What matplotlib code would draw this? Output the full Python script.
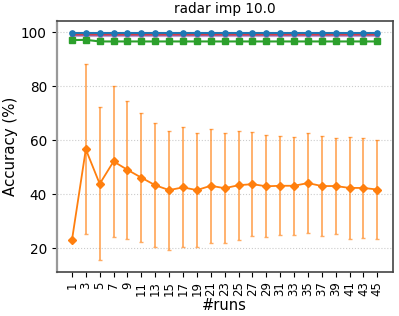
import matplotlib
matplotlib.use("Agg")
import matplotlib.pyplot as plt

runs = list(range(1, 46, 2))

blue_mean = [99.9] * 23
red_mean = [99.0] * 23
purple_mean = [98.6] * 23
green_mean = [97.1, 97.2] + [96.6] * 21

orange_mean = [23.0, 56.7, 43.9, 52.2, 49.1, 46.2, 43.4, 41.6, 42.6, 41.6, 43.2, 42.3,
               43.4, 43.8, 43.0, 43.2, 43.2, 44.2, 43.1, 43.1, 42.4, 42.4, 41.8]
orange_err = [0.0, 31.5, 28.3, 28.0, 25.5, 23.9, 23.0, 22.0, 22.2, 21.2, 21.0, 20.3,
              20.1, 19.3, 18.8, 18.4, 18.1, 18.4, 18.5, 17.7, 18.8, 18.5, 18.3]

fig, ax = plt.subplots(figsize=(3.99, 3.16), dpi=100)

ax.errorbar(runs, red_mean, yerr=0.2, color="tab:red", capsize=1.5, alpha=0.9)
ax.errorbar(runs, purple_mean, yerr=0.2, color="tab:purple", capsize=1.5, alpha=0.6)
ax.errorbar(runs, green_mean, yerr=0.3, color="tab:green", marker="s", markersize=3.8,
            capsize=1.5)
ax.errorbar(runs, blue_mean, yerr=0.1, color="tab:blue", marker="o", markersize=3.8,
            capsize=1.5)
line, caps, bars = ax.errorbar(runs, orange_mean, yerr=orange_err, color="tab:orange",
                               marker="D", markersize=3.8, capsize=1.5, lw=1.3)
for b in bars:
    b.set_alpha(0.65)
for c in caps:
    c.set_alpha(0.65)

ax.set_xticks(runs)
ax.set_xticklabels([str(r) for r in runs], rotation=90, fontsize=8.5)
ax.tick_params(axis="y", labelsize=9.8)
ax.set_yticks([20, 40, 60, 80, 100])
ax.grid(True, axis="y", linestyle=":", linewidth=0.8, color="#CCCCCC")
ax.set_axisbelow(True)

for name, spine in ax.spines.items():
    spine.set_linewidth(1.2)
    spine.set_color("#444444")
ax.spines["left"].set_color("#999999")
ax.spines["left"].set_linewidth(1.6)

ax.set_title("radar imp 10.0", fontsize=9.8)
ax.set_xlabel("#runs", fontsize=10.5, labelpad=1)
ax.set_ylabel("Accuracy (%)", fontsize=10.8, labelpad=2)

fig.subplots_adjust(left=0.142, right=0.984, top=0.934, bottom=0.140)
fig.savefig("out.png", dpi=100)
